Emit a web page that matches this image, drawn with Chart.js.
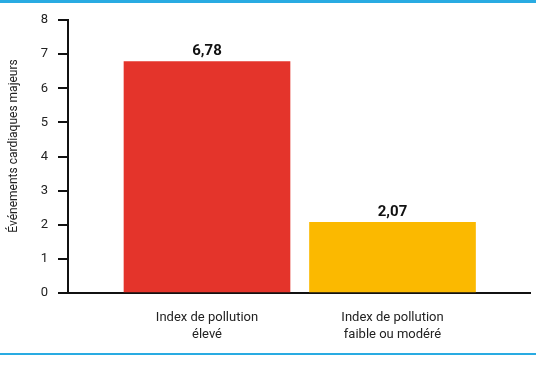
<!DOCTYPE html>
<html>
<head>
<meta charset="utf-8">
<script src="https://cdn.jsdelivr.net/npm/chart.js@4"></script>
<style>
  html, body { margin: 0; padding: 0; background: #fff; }
  #wrap { width: 536px; height: 386px; }
</style>
</head>
<body>
<div id="wrap"><canvas id="graficoEvenements" width="536" height="386"></canvas></div>
<script>
const categories = [
  ["Index de pollution", "élevé"],
  ["Index de pollution", "faible ou modéré"],
];
const values = [6.78, 2.07];
const valueLabels = ["6,78", "2,07"];
const barColors = ["#e4342b", "#fbb900"];
const yTicks = [0, 1, 2, 3, 4, 5, 6, 7, 8];
const yTitle = "Événements cardiaques majeurs";

// lignes bleues haut/bas + titre vertical (un peu au-dessus du centre comme l'original)
const decor = {
  id: "decor",
  afterDraw(chart) {
    const c = chart.ctx;
    c.save();
    c.fillStyle = "#29abe2";
    c.fillRect(0, 0, chart.width, 3);
    c.fillRect(0, 353, chart.width, 2);
    c.translate(14, 146);
    c.rotate(-Math.PI / 2);
    c.font = "12px Roboto";
    c.fillStyle = "#222";
    c.textAlign = "center";
    c.textBaseline = "middle";
    c.fillText(yTitle, 0, 0);
    c.restore();
  },
};

const etiquettes = {
  id: "etiquettes",
  afterDatasetsDraw(chart) {
    const c = chart.ctx;
    const meta = chart.getDatasetMeta(0);
    c.save();
    c.font = "bold 15px Roboto";
    c.fillStyle = "#111";
    c.textAlign = "center";
    c.textBaseline = "bottom";
    meta.data.forEach((bar, i) => {
      c.fillText(valueLabels[i], bar.x, bar.y - 3);
    });
    c.restore();
  },
};

new Chart(document.getElementById("graficoEvenements"), {
  type: "bar",
  data: {
    datasets: [
      {
        data: values.map((v, i) => ({ x: i, y: v })),
        backgroundColor: barColors,
        barThickness: 166,
      },
    ],
  },
  options: {
    responsive: false,
    animation: false,
    layout: { padding: { top: 20, right: 6, left: 0, bottom: 0 } },
    plugins: {
      legend: { display: false },
      tooltip: { enabled: false },
    },
    scales: {
      x: {
        type: "linear",
        min: -0.7493,
        max: 1.7412,
        offset: false,
        bounds: "data",
        afterFit: (s) => { s.height = 93; },
        afterBuildTicks: (s) => { s.ticks = categories.map((c, i) => ({ value: i })); },
        grid: { display: false, offset: false },
        border: { color: "#111", width: 2 },
        ticks: {
          padding: 8,
          color: "#222",
          font: { family: "Roboto", size: 13, lineHeight: 1.3 },
          maxRotation: 0,
          autoSkip: false,
          callback: (v) => categories[v],
        },
      },
      y: {
        min: 0,
        max: 8,
        afterFit: (s) => { s.width = 68; },
        afterBuildTicks: (s) => { s.ticks = yTicks.map((v) => ({ value: v })); },
        grid: { drawOnChartArea: false, color: "#111", lineWidth: 2, tickLength: 10 },
        border: { color: "#111", width: 2 },
        ticks: {
          padding: 10,
          color: "#222",
          font: { family: "Roboto", size: 13 },
        },
      },
    },
  },
  plugins: [decor, etiquettes],
});
</script>
</body>
</html>
